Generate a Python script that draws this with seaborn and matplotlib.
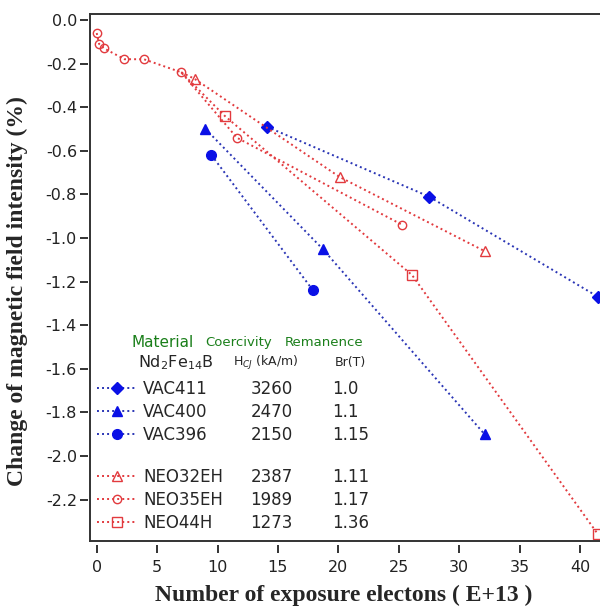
import numpy as np
import pandas as pd
import matplotlib
matplotlib.use("Agg")
import matplotlib.pyplot as plt
import seaborn as sns

# exposure (E+13 electrons) and change of field intensity (%)
vac411_x = [14.1, 27.5, 41.5]
vac411_y = [-0.49, -0.81, -1.27]
vac400_x = [9.0, 18.7, 32.1]
vac400_y = [-0.50, -1.05, -1.90]
vac396_x = [9.5, 17.9]
vac396_y = [-0.62, -1.24]
neo32_x = [7.0, 8.1, 20.1, 32.1]      # first point shared with NEO35EH
neo32_y = [-0.24, -0.27, -0.72, -1.06]
neo35_x = [0.0, 0.2, 0.6, 2.3, 3.9, 7.0, 11.6, 25.3]
neo35_y = [-0.06, -0.11, -0.13, -0.18, -0.18, -0.24, -0.54, -0.94]
neo44_x = [7.0, 10.6, 26.1, 41.5]     # first point shared with NEO35EH
neo44_y = [-0.24, -0.44, -1.17, -2.36]

names = ["VAC411", "VAC400", "VAC396", "NEO32EH", "NEO35EH", "NEO44H"]
coercivity = ["3260", "2470", "2150", "2387", "1989", "1273"]
remanence = ["1.0", "1.1", "1.15", "1.11", "1.17", "1.36"]

x_ticks = [0, 5, 10, 15, 20, 25, 30, 35, 40]
y_ticks = [0.0, -0.2, -0.4, -0.6, -0.8, -1.0, -1.2, -1.4, -1.6, -1.8, -2.0, -2.2]

sns.set_style("ticks")
plt.rcParams["font.family"] = ["DejaVu Sans"]
plt.rcParams["axes.unicode_minus"] = False

blue = "#0a10e6"
blue_line = "#2a35b5"
red = "#e23a3e"
green = "#1a7f1a"
dots = (0, (1, 1.6))

fig = plt.figure(figsize=(6, 6.08), dpi=100)
ax = fig.add_axes([0.15, 0.1102, 0.85, 0.8668])

series = [
    (vac411_x, vac411_y, "D", blue, blue_line, blue, 6.0, None),
    (vac400_x, vac400_y, "^", blue, blue_line, blue, 7.0, None),
    (vac396_x, vac396_y, "o", blue, blue_line, blue, 7.0, None),
    (neo32_x, neo32_y, "^", red, red, "none", 7.0, [1, 2, 3]),
    (neo35_x, neo35_y, "o", red, red, "none", 6.0, None),
    (neo44_x, neo44_y, "s", red, red, "none", 6.5, [1, 2, 3]),
]
handles = []
for (xs, ys, mk, mc, lc, fc, ms, every), name in zip(series, names):
    df = pd.DataFrame({"x": xs, "y": ys})
    sns.lineplot(data=df, x="x", y="y", ax=ax, estimator=None, sort=False,
                 color=lc, linestyle=dots, linewidth=1.4, marker=mk,
                 markersize=ms, markeredgecolor=mc, markerfacecolor=fc,
                 markeredgewidth=1.0, markevery=every, clip_on=True)
    h = matplotlib.lines.Line2D([], [], color=lc, linestyle=dots, linewidth=1.4,
                                marker=mk, markersize=ms, markeredgecolor=mc,
                                markerfacecolor=fc, markeredgewidth=1.0)
    handles.append(h)

ax.set_xlim(-0.555, 41.66)
ax.set_ylim(-2.39, 0.0275)

for side in ["top", "left", "bottom"]:
    ax.spines[side].set_color("#333333")
    ax.spines[side].set_linewidth(1.4)
ax.spines["right"].set_visible(False)
ax.tick_params(length=0, labelleft=False, labelbottom=False)

# ticks sit slightly away from the frame, as in the original
secx = ax.secondary_xaxis(-4 / 527)
secy = ax.secondary_yaxis(-2 / 510)
for sec in (secx, secy):
    for s in sec.spines.values():
        s.set_visible(False)
secx.set_xticks(x_ticks)
secx.set_xticklabels([str(t) for t in x_ticks])
secy.set_yticks(y_ticks)
secy.set_yticklabels([f"{t:.1f}" for t in y_ticks])
secx.tick_params(direction="out", length=6, width=1.4, color="#333333",
                 labelsize=11.5, pad=5, labelcolor="#222222")
secy.tick_params(direction="out", length=6, width=1.4, color="#333333",
                 labelsize=11.5, pad=2, labelcolor="#222222")

ax.set_xlabel("")
ax.set_ylabel("")
fig.text(0.573, 0.004, "Number of exposure electons ( E+13 )", ha="center",
         va="bottom", fontsize=17, fontweight="bold", family="Liberation Serif")
fig.text(0.012, 0.522, "Change of magnetic field intensity (%)", ha="left",
         va="center", rotation=90, fontsize=17, fontweight="bold",
         family="Liberation Serif")

# legend: blank entry between the VAC and NEO groups
blank = matplotlib.lines.Line2D([], [], linestyle="none")
leg_h = handles[:3] + [blank] + handles[3:]
leg_l = names[:3] + [" "] + names[3:]
leg = ax.legend(leg_h, leg_l, loc="upper left", bbox_to_anchor=(0.1617, 0.375),
                bbox_transform=fig.transFigure, frameon=False, fontsize=12,
                borderpad=0, borderaxespad=0, handlelength=2.4,
                handletextpad=0.36, labelspacing=0.29)
leg.get_texts()[3].set_fontsize(9)

fig.text(0.2195, 0.4364, "Material", color=green, fontsize=11, va="center")
fig.text(0.342, 0.4364, "Coercivity", color=green, fontsize=9.5, va="center")
fig.text(0.475, 0.4364, "Remanence", color=green, fontsize=9.5, va="center")
fig.text(0.23, 0.403, r"Nd$_2$Fe$_{14}$B", fontsize=11.5, va="center")
fig.text(0.388, 0.403, r"H$_{CJ}$ (kA/m)", fontsize=9, va="center")
fig.text(0.558, 0.403, "Br(T)", fontsize=9, va="center")

fig.canvas.draw()
renderer = fig.canvas.get_renderer()
rows = [t for t in leg.get_texts() if t.get_text().strip()]
for t, hc, br in zip(rows, coercivity, remanence):
    bb = t.get_window_extent(renderer)
    yc = (bb.y0 + bb.y1) / 2 / fig.bbox.height
    fig.text(0.4525, yc, hc, ha="center", va="center", fontsize=12)
    fig.text(0.553, yc, br, ha="left", va="center", fontsize=12)

fig.savefig("out.png", dpi=100)
